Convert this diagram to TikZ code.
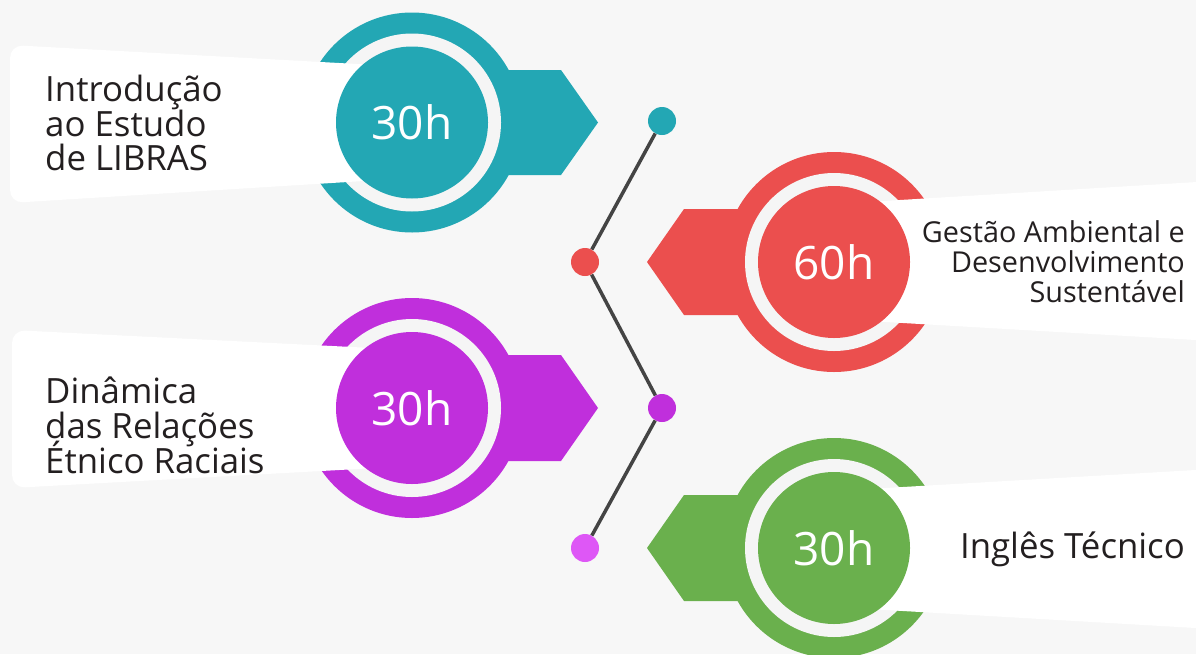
\documentclass[tikz,border=0pt]{standalone}
\usepackage{fontspec}
\setmainfont{Open Sans}
\definecolor{bgc}{HTML}{F7F7F7}
\definecolor{gapc}{HTML}{F5F5F5}
\definecolor{tealc}{HTML}{23A7B4}
\definecolor{redc}{HTML}{EB4F4E}
\definecolor{purc}{HTML}{C02FDC}
\definecolor{grnc}{HTML}{6AB04D}
\definecolor{magc}{HTML}{DE57F6}
\definecolor{txtc}{HTML}{231F20}
\definecolor{linec}{HTML}{444444}
\tikzset{
  hours/.style={text=white, inner sep=0pt, font=\fontsize{46}{46}\selectfont},
  lbl/.style={text=txtc, inner sep=0pt, font=\fontsize{34.8}{36}\selectfont},
  lblsmall/.style={text=txtc, inner sep=0pt, font=\fontsize{28.8}{30}\selectfont},
  dot/.style={circle, minimum size=28pt, inner sep=0pt},
  link/.style={draw=linec, line width=3.5pt}
}
\begin{document}
\begin{tikzpicture}[x=1pt,y=-1pt]
\useasboundingbox (0,0) rectangle (1196,654);
\clip (0,0) rectangle (1196,654);
\fill[bgc] (0,0) rectangle (1196,654);

% ---- teal block
\fill[tealc] (412,122.5) circle[radius=110];
\fill[tealc] (412,70) -- (561,70) -- (598,122.5) -- (561,175) -- (412,175) -- cycle;
\fill[gapc] (412,122.5) circle[radius=89];
\fill[white, rounded corners=13] (412,67) -- (10,45) -- (10,203) -- (412,178) -- cycle;
\fill[tealc] (412,122.5) circle[radius=76];
\node[hours] (h1) at (412,122.5) {30h};
\node[lbl, anchor=base west] (t1a) at (45,101) {Introdução};
\node[lbl, anchor=base west] (t1b) at (45,136) {ao Estudo};
\node[lbl, anchor=base west] (t1c) at (45,170) {de LIBRAS};

% ---- purple block
\fill[purc] (412,408) circle[radius=110];
\fill[purc] (412,355) -- (561,355) -- (598,408) -- (561,461) -- (412,461) -- cycle;
\fill[gapc] (412,408) circle[radius=89];
\fill[white, rounded corners=13] (412,350) -- (12,330) -- (12,488) -- (412,466) -- cycle;
\fill[purc] (412,408) circle[radius=76];
\node[hours] (h3) at (412,408) {30h};
\node[lbl, anchor=base west] (t3a) at (45,403) {Dinâmica};
\node[lbl, anchor=base west] (t3b) at (45,438) {das Relações};
\node[lbl, anchor=base west] (t3c) at (45,473) {Étnico Raciais};

% ---- red block
\fill[redc] (834,262) circle[radius=110];
\fill[redc] (834,209) -- (684,209) -- (647,262) -- (684,315) -- (834,315) -- cycle;
\fill[gapc] (834,262) circle[radius=89];
\fill[white] (834,204) -- (1230,180) -- (1230,342) -- (834,319) -- cycle;
\fill[redc] (834,262) circle[radius=76];
\node[hours] (h2) at (834,262) {60h};
\node[lblsmall, anchor=base east] (t2a) at (1185,242) {Gestão Ambiental e};
\node[lblsmall, anchor=base east] (t2b) at (1185,272) {Desenvolvimento};
\node[lblsmall, anchor=base east] (t2c) at (1185,302) {Sustentável};

% ---- green block
\fill[grnc] (834,548) circle[radius=110];
\fill[grnc] (834,495) -- (684,495) -- (647,548) -- (684,601) -- (834,601) -- cycle;
\fill[gapc] (834,548) circle[radius=89];
\fill[white] (834,491) -- (1230,468) -- (1230,630) -- (834,607) -- cycle;
\fill[grnc] (834,548) circle[radius=76];
\node[hours] (h4) at (834,548) {30h};
\node[lbl, anchor=base east] (t4a) at (1185,558) {Inglês Técnico};

% ---- timeline
\node[dot, fill=tealc] (d1) at (662,121) {};
\node[dot, fill=redc] (d2) at (585,262) {};
\node[dot, fill=purc] (d3) at (662,408) {};
\node[dot, fill=magc] (d4) at (585,548) {};
\draw[link] (d1) -- (d2);
\draw[link] (d2) -- (d3);
\draw[link] (d3) -- (d4);
\end{tikzpicture}
\end{document}
